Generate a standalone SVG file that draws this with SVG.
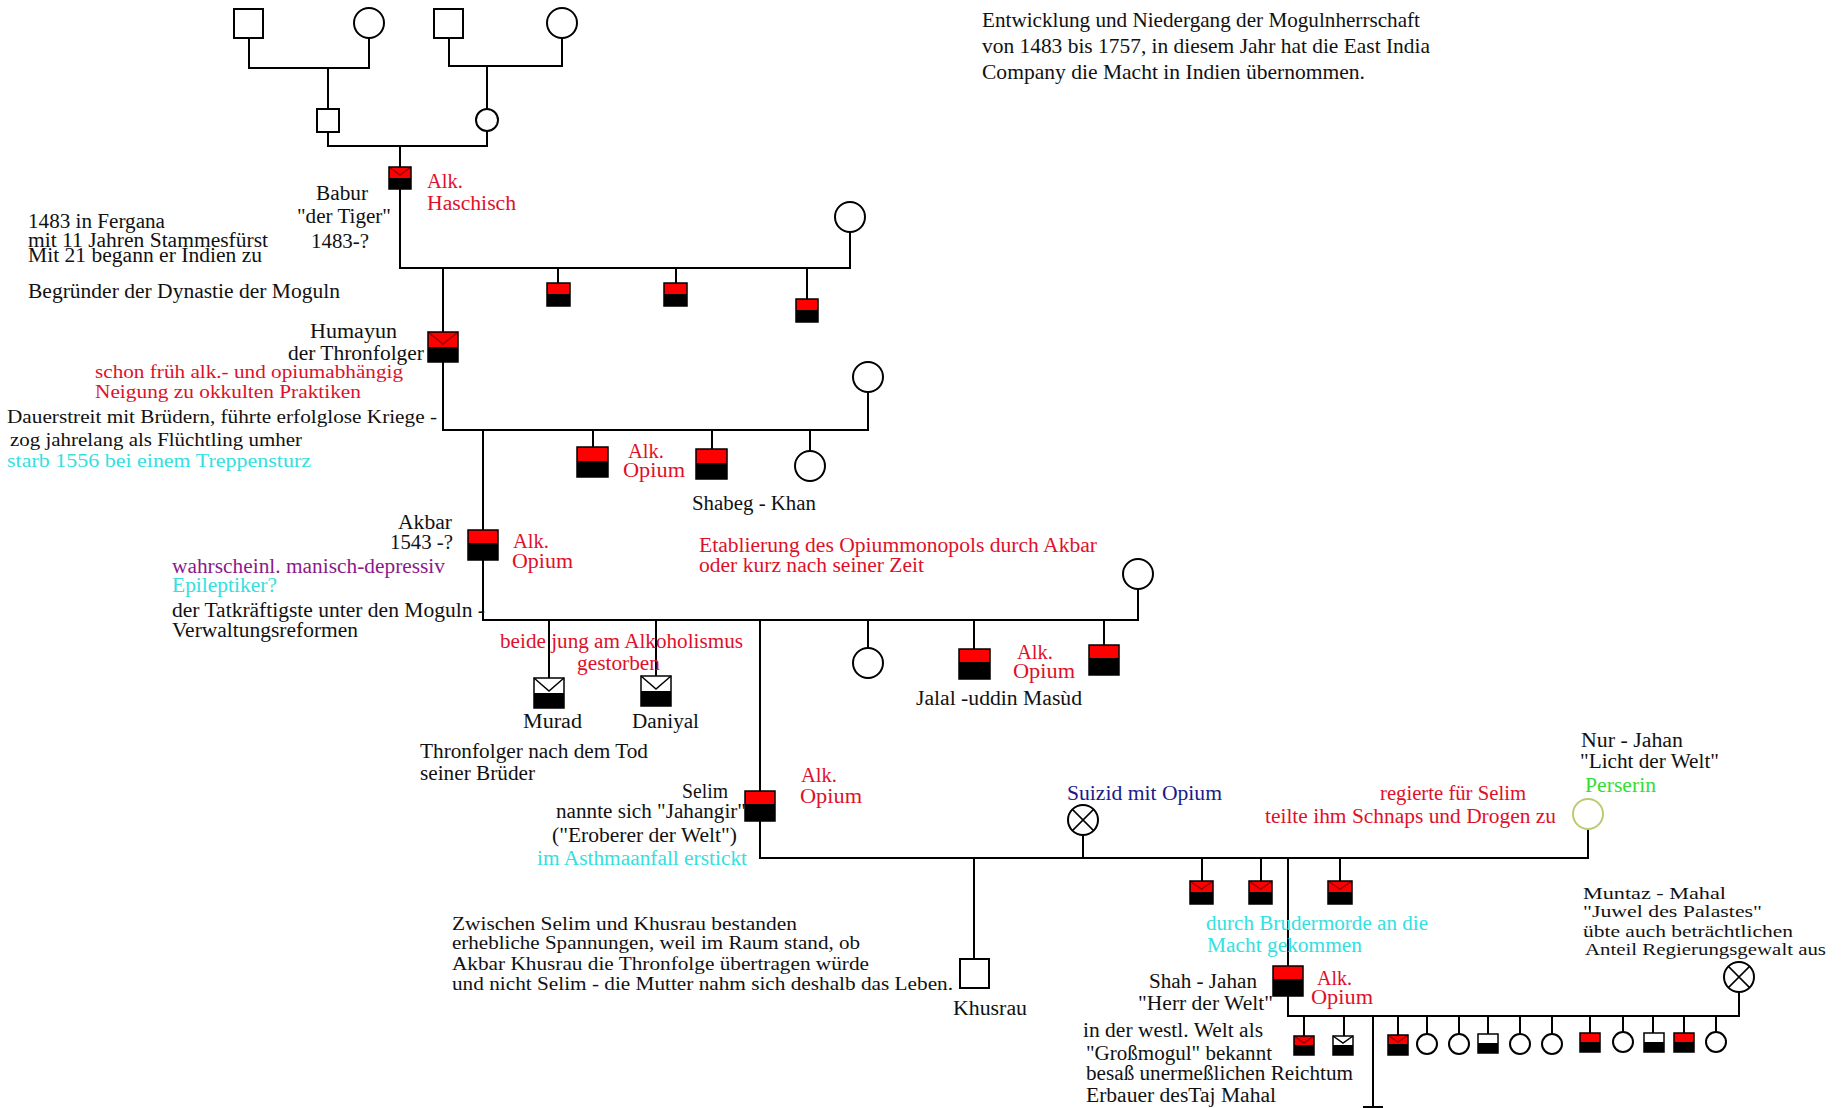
<svg xmlns="http://www.w3.org/2000/svg" width="1846" height="1108" viewBox="0 0 1846 1108">
<style>
.ln{stroke:#000;stroke-width:2;fill:none}
.bx{fill:none;stroke:#000;stroke-width:1.5}
.wh{fill:#fff;stroke:#000;stroke-width:2}
.ci{fill:#fff;stroke:#000;stroke-width:2}
.rd{fill:#ff0000}
.bk{fill:#000}
.v{stroke:#990000;stroke-width:1.5;fill:none}
.vb{stroke:#000;stroke-width:1.5;fill:none}
text{font-family:"Liberation Serif","Times New Roman",serif;font-size:20px;fill:#111}
.r{fill:#e0102a}
.c{fill:#33e0e0}
.p{fill:#8a1a8a}
.g{fill:#33dd33}
.n{fill:#1a1a88}
.s{font-size:19px}
.t{font-size:21px}
.z{font-size:18px}
.m{font-size:17px}
</style>
<rect width="1846" height="1108" fill="#fff"/>

<g id="connectors">
<path class="ln" d="M249 38V68H369V38M328 68V109M328 132V146H487V131M449 38V66H562V38M487 66V109"/>
<path class="ln" d="M400 146V167M400 189V268H850V232M558 268V283M676 268V283M807 268V299"/>
<path class="ln" d="M443 268V332M443 362V430H868V392M593 430V447M712 430V449M810 430V451"/>
<path class="ln" d="M483 430V530M483 560V620H1138V589M549 620V678M656 620V676M760 620V791M868 620V648M974 620V649M1104 620V645"/>
<path class="ln" d="M760 821V858H1588V829M974 858V959M1083 858V835M1202 858V881M1261 858V881M1340 858V881M1288 858V966"/>
<path class="ln" d="M1288 996V1016H1739V992M1304 1016V1036M1344 1016V1036M1373 1016V1108M1363 1107H1383M1398 1016V1035M1427 1016V1034M1459 1016V1034M1488 1016V1034M1520 1016V1034M1552 1016V1034M1590 1016V1033M1623 1016V1032M1653 1016V1033M1684 1016V1033M1716 1016V1032"/>
</g>

<g id="gen1">
<rect class="wh" x="234" y="9" width="29" height="29"/>
<circle class="ci" cx="369" cy="23" r="15"/>
<rect class="wh" x="434" y="9" width="29" height="29"/>
<circle class="ci" cx="562" cy="23" r="15"/>
</g>
<g id="gen2">
<rect class="wh" x="317" y="109" width="22" height="23"/>
<circle class="ci" cx="487" cy="120" r="11"/>
</g>

<g id="babur">
<rect class="bk" x="389" y="167" width="22" height="22"/>
<rect class="rd" x="389" y="167" width="22" height="11"/>
<path class="v" d="M389 167L400 175L411 167"/>
<rect class="bx" x="389" y="167" width="22" height="22"/>
<text x="316" y="200" textLength="52" lengthAdjust="spacingAndGlyphs">Babur</text>
<text x="297" y="223" textLength="94" lengthAdjust="spacingAndGlyphs">"der Tiger"</text>
<text x="311" y="248" textLength="58" lengthAdjust="spacingAndGlyphs">1483-?</text>
<text class="r" x="427" y="188" textLength="36" lengthAdjust="spacingAndGlyphs">Alk.</text>
<text class="r" x="427" y="210" textLength="89" lengthAdjust="spacingAndGlyphs">Haschisch</text>
<text x="28" y="228" textLength="137" lengthAdjust="spacingAndGlyphs">1483 in Fergana</text>
<text x="28" y="247" textLength="240" lengthAdjust="spacingAndGlyphs">mit 11 Jahren Stammesfürst</text>
<text x="28" y="262" textLength="234" lengthAdjust="spacingAndGlyphs">Mit 21 begann er Indien zu</text>
<text x="28" y="298" textLength="312" lengthAdjust="spacingAndGlyphs">Begründer der Dynastie der Moguln</text>
</g>
<g id="babur-wife"><circle class="ci" cx="850" cy="217" r="15"/></g>
<g id="babur-child1">
<rect class="bk" x="547" y="283" width="23" height="23"/><rect class="rd" x="547" y="283" width="23" height="11"/><rect class="bx" x="547" y="283" width="23" height="23"/>
</g>
<g id="babur-child2">
<rect class="bk" x="664" y="283" width="23" height="23"/><rect class="rd" x="664" y="283" width="23" height="11"/><rect class="bx" x="664" y="283" width="23" height="23"/>
</g>
<g id="babur-child3">
<rect class="bk" x="796" y="299" width="22" height="23"/><rect class="rd" x="796" y="299" width="22" height="11"/><rect class="bx" x="796" y="299" width="22" height="23"/>
</g>

<g id="humayun">
<rect class="bk" x="428" y="332" width="30" height="30"/>
<rect class="rd" x="428" y="332" width="30" height="15"/>
<path class="v" d="M428 332L443 344L458 332"/>
<rect class="bx" x="428" y="332" width="30" height="30"/>
<text x="310" y="338" textLength="87" lengthAdjust="spacingAndGlyphs">Humayun</text>
<text x="288" y="360" textLength="136" lengthAdjust="spacingAndGlyphs">der Thronfolger</text>
<text class="r s" x="95" y="378" textLength="308" lengthAdjust="spacingAndGlyphs">schon früh alk.- und opiumabhängig</text>
<text class="r s" x="95" y="398" textLength="266" lengthAdjust="spacingAndGlyphs">Neigung zu okkulten Praktiken</text>
<text class="s" x="7" y="423" textLength="430" lengthAdjust="spacingAndGlyphs">Dauerstreit mit Brüdern, führte erfolglose Kriege -</text>
<text class="s" x="10" y="446" textLength="292" lengthAdjust="spacingAndGlyphs">zog jahrelang als Flüchtling umher</text>
<text class="c s" x="7" y="467" textLength="304" lengthAdjust="spacingAndGlyphs">starb 1556 bei einem Treppensturz</text>
</g>
<g id="humayun-wife"><circle class="ci" cx="868" cy="377" r="15"/></g>
<g id="humayun-child1">
<rect class="bk" x="577" y="447" width="31" height="30"/><rect class="rd" x="577" y="447" width="31" height="14"/><rect class="bx" x="577" y="447" width="31" height="30"/>
<text class="r" x="628" y="458" textLength="36" lengthAdjust="spacingAndGlyphs">Alk.</text>
<text class="r" x="623" y="477" textLength="62" lengthAdjust="spacingAndGlyphs">Opium</text>
</g>
<g id="shabeg-khan">
<rect class="bk" x="696" y="449" width="31" height="30"/><rect class="rd" x="696" y="449" width="31" height="14"/><rect class="bx" x="696" y="449" width="31" height="30"/>
<text x="692" y="510" textLength="124" lengthAdjust="spacingAndGlyphs">Shabeg - Khan</text>
</g>
<g id="humayun-daughter"><circle class="ci" cx="810" cy="466" r="15"/></g>

<g id="akbar">
<rect class="bk" x="468" y="530" width="30" height="30"/>
<rect class="rd" x="468" y="530" width="30" height="13"/>
<rect class="bx" x="468" y="530" width="30" height="30"/>
<text x="398" y="529" textLength="54" lengthAdjust="spacingAndGlyphs">Akbar</text>
<text x="390" y="549" textLength="63" lengthAdjust="spacingAndGlyphs">1543 -?</text>
<text class="r" x="513" y="548" textLength="36" lengthAdjust="spacingAndGlyphs">Alk.</text>
<text class="r" x="512" y="568" textLength="61" lengthAdjust="spacingAndGlyphs">Opium</text>
<text class="p" x="172" y="573" textLength="273" lengthAdjust="spacingAndGlyphs">wahrscheinl. manisch-depressiv</text>
<text class="c" x="172" y="592" textLength="105" lengthAdjust="spacingAndGlyphs">Epileptiker?</text>
<text x="172" y="617" textLength="313" lengthAdjust="spacingAndGlyphs">der Tatkräftigste unter den Moguln -</text>
<text x="172" y="637" textLength="186" lengthAdjust="spacingAndGlyphs">Verwaltungsreformen</text>
</g>
<g id="akbar-wife"><circle class="ci" cx="1138" cy="574" r="15"/></g>
<text class="r" x="699" y="552" textLength="398" lengthAdjust="spacingAndGlyphs">Etablierung des Opiummonopols durch Akbar</text>
<text class="r" x="699" y="572" textLength="225" lengthAdjust="spacingAndGlyphs">oder kurz nach seiner Zeit</text>
<text class="r" x="500" y="648" textLength="243" lengthAdjust="spacingAndGlyphs">beide jung am Alkoholismus</text>
<text class="r" x="577" y="670" textLength="83" lengthAdjust="spacingAndGlyphs">gestorben</text>

<g id="murad">
<rect class="bk" x="534" y="678" width="30" height="30"/>
<rect fill="#fff" x="534" y="678" width="30" height="15"/>
<path class="vb" d="M534 678L549 691L564 678"/>
<rect class="bx" x="534" y="678" width="30" height="30"/>
<text x="523" y="728" textLength="59" lengthAdjust="spacingAndGlyphs">Murad</text>
</g>
<g id="daniyal">
<rect class="bk" x="641" y="676" width="30" height="30"/>
<rect fill="#fff" x="641" y="676" width="30" height="15"/>
<path class="vb" d="M641 676L656 689L671 676"/>
<rect class="bx" x="641" y="676" width="30" height="30"/>
<text x="632" y="728" textLength="67" lengthAdjust="spacingAndGlyphs">Daniyal</text>
</g>
<g id="akbar-daughter"><circle class="ci" cx="868" cy="663" r="15"/></g>
<g id="jalal">
<rect class="bk" x="959" y="649" width="31" height="30"/><rect class="rd" x="959" y="649" width="31" height="13"/><rect class="bx" x="959" y="649" width="31" height="30"/>
<text class="r" x="1017" y="659" textLength="36" lengthAdjust="spacingAndGlyphs">Alk.</text>
<text class="r" x="1013" y="678" textLength="62" lengthAdjust="spacingAndGlyphs">Opium</text>
<text x="916" y="705" textLength="166" lengthAdjust="spacingAndGlyphs">Jalal -uddin Masùd</text>
</g>
<g id="akbar-son">
<rect class="bk" x="1089" y="645" width="30" height="30"/><rect class="rd" x="1089" y="645" width="30" height="13"/><rect class="bx" x="1089" y="645" width="30" height="30"/>
</g>

<g id="selim">
<rect class="bk" x="745" y="791" width="30" height="30"/>
<rect class="rd" x="745" y="791" width="30" height="13"/>
<rect class="bx" x="745" y="791" width="30" height="30"/>
<text x="420" y="758" textLength="228" lengthAdjust="spacingAndGlyphs">Thronfolger nach dem Tod</text>
<text x="420" y="780" textLength="115" lengthAdjust="spacingAndGlyphs">seiner Brüder</text>
<text x="682" y="798" textLength="46" lengthAdjust="spacingAndGlyphs">Selim</text>
<text x="556" y="818" textLength="190" lengthAdjust="spacingAndGlyphs">nannte sich "Jahangir"</text>
<text x="552" y="842" textLength="185" lengthAdjust="spacingAndGlyphs">("Eroberer der Welt")</text>
<text class="c" x="537" y="865" textLength="210" lengthAdjust="spacingAndGlyphs">im Asthmaanfall erstickt</text>
<text class="r" x="801" y="782" textLength="36" lengthAdjust="spacingAndGlyphs">Alk.</text>
<text class="r" x="800" y="803" textLength="62" lengthAdjust="spacingAndGlyphs">Opium</text>
</g>
<text class="z" x="452" y="930" textLength="345" lengthAdjust="spacingAndGlyphs">Zwischen Selim und Khusrau bestanden</text>
<text class="z" x="452" y="949" textLength="408" lengthAdjust="spacingAndGlyphs">erhebliche Spannungen, weil im Raum stand, ob</text>
<text class="z" x="452" y="970" textLength="417" lengthAdjust="spacingAndGlyphs">Akbar Khusrau die Thronfolge übertragen würde</text>
<text class="z" x="452" y="990" textLength="501" lengthAdjust="spacingAndGlyphs">und nicht Selim - die Mutter nahm sich deshalb das Leben.</text>

<g id="selim-wife1">
<circle class="ci" cx="1083" cy="820" r="15"/>
<path class="vb" d="M1072.4 809.4L1093.6 830.6M1093.6 809.4L1072.4 830.6"/>
<text class="n" x="1067" y="800" textLength="155" lengthAdjust="spacingAndGlyphs">Suizid mit Opium</text>
</g>
<g id="nur-jahan">
<circle cx="1588" cy="814" r="15" fill="#fff" stroke="#b8cc70" stroke-width="2"/>
<text x="1581" y="747" textLength="102" lengthAdjust="spacingAndGlyphs">Nur - Jahan</text>
<text x="1580" y="768" textLength="139" lengthAdjust="spacingAndGlyphs">"Licht der Welt"</text>
<text class="g" x="1585" y="792" textLength="71" lengthAdjust="spacingAndGlyphs">Perserin</text>
<text class="r" x="1380" y="800" textLength="146" lengthAdjust="spacingAndGlyphs">regierte für Selim</text>
<text class="r" x="1265" y="823" textLength="291" lengthAdjust="spacingAndGlyphs">teilte ihm Schnaps und Drogen zu</text>
</g>
<g id="khusrau">
<rect class="wh" x="960" y="959" width="29" height="29"/>
<text x="953" y="1015" textLength="74" lengthAdjust="spacingAndGlyphs">Khusrau</text>
</g>
<g id="selim-child1">
<rect class="bk" x="1190" y="881" width="23" height="23"/><rect class="rd" x="1190" y="881" width="23" height="11"/><path class="v" d="M1190 881L1201.5 889L1213 881"/><rect class="bx" x="1190" y="881" width="23" height="23"/>
</g>
<g id="selim-child2">
<rect class="bk" x="1249" y="881" width="23" height="23"/><rect class="rd" x="1249" y="881" width="23" height="11"/><path class="v" d="M1249 881L1260.5 889L1272 881"/><rect class="bx" x="1249" y="881" width="23" height="23"/>
</g>
<g id="selim-child3">
<rect class="bk" x="1328" y="881" width="24" height="23"/><rect class="rd" x="1328" y="881" width="24" height="11"/><path class="v" d="M1328 881L1340 889L1352 881"/><rect class="bx" x="1328" y="881" width="24" height="23"/>
</g>
<text class="c" x="1206" y="930" textLength="222" lengthAdjust="spacingAndGlyphs">durch Brudermorde an die</text>
<text class="c" x="1207" y="952" textLength="155" lengthAdjust="spacingAndGlyphs">Macht gekommen</text>

<g id="shah-jahan">
<rect class="bk" x="1273" y="966" width="30" height="30"/>
<rect class="rd" x="1273" y="966" width="30" height="13"/>
<rect class="bx" x="1273" y="966" width="30" height="30"/>
<text class="r" x="1317" y="985" textLength="35" lengthAdjust="spacingAndGlyphs">Alk.</text>
<text class="r" x="1311" y="1004" textLength="62" lengthAdjust="spacingAndGlyphs">Opium</text>
<text x="1149" y="988" textLength="108" lengthAdjust="spacingAndGlyphs">Shah - Jahan</text>
<text x="1138" y="1010" textLength="135" lengthAdjust="spacingAndGlyphs">"Herr der Welt"</text>
<text x="1083" y="1037" textLength="180" lengthAdjust="spacingAndGlyphs">in der westl. Welt als</text>
<text x="1086" y="1060" textLength="186" lengthAdjust="spacingAndGlyphs">"Großmogul" bekannt</text>
<text x="1086" y="1080" textLength="267" lengthAdjust="spacingAndGlyphs">besaß unermeßlichen Reichtum</text>
<text x="1086" y="1102" textLength="190" lengthAdjust="spacingAndGlyphs">Erbauer desTaj Mahal</text>
</g>
<g id="muntaz-mahal">
<circle class="ci" cx="1739" cy="977" r="15"/>
<path class="vb" d="M1728.4 966.4L1749.6 987.6M1749.6 966.4L1728.4 987.6"/>
<text class="m" x="1583" y="899" textLength="143" lengthAdjust="spacingAndGlyphs">Muntaz - Mahal</text>
<text class="m" x="1583" y="917" textLength="179" lengthAdjust="spacingAndGlyphs">"Juwel des Palastes"</text>
<text class="m" x="1583" y="937" textLength="210" lengthAdjust="spacingAndGlyphs">übte auch beträchtlichen</text>
<text class="m" x="1585" y="955" textLength="241" lengthAdjust="spacingAndGlyphs">Anteil Regierungsgewalt aus</text>
</g>

<g id="sj-child1"><rect class="bk" x="1294" y="1036" width="20" height="19"/><rect class="rd" x="1294" y="1036" width="20" height="9"/><path class="v" d="M1294 1036L1304 1043L1314 1036"/><rect class="bx" x="1294" y="1036" width="20" height="19"/></g>
<g id="sj-child2"><rect class="bk" x="1333" y="1036" width="20" height="19"/><rect fill="#fff" x="1333" y="1036" width="20" height="9"/><path class="vb" d="M1333 1036L1343 1043L1353 1036"/><rect class="bx" x="1333" y="1036" width="20" height="19"/></g>
<g id="sj-child3"><rect class="bk" x="1388" y="1035" width="20" height="20"/><rect class="rd" x="1388" y="1035" width="20" height="9"/><path class="v" d="M1388 1035L1398 1042L1408 1035"/><rect class="bx" x="1388" y="1035" width="20" height="20"/></g>
<g id="sj-child4"><circle class="ci" cx="1427" cy="1044" r="10"/></g>
<g id="sj-child5"><circle class="ci" cx="1459" cy="1044" r="10"/></g>
<g id="sj-child6"><rect class="bk" x="1478" y="1034" width="20" height="19"/><rect fill="#fff" x="1478" y="1034" width="20" height="9"/><rect class="bx" x="1478" y="1034" width="20" height="19"/></g>
<g id="sj-child7"><circle class="ci" cx="1520" cy="1044" r="10"/></g>
<g id="sj-child8"><circle class="ci" cx="1552" cy="1044" r="10"/></g>
<g id="sj-child9"><rect class="bk" x="1580" y="1033" width="20" height="19"/><rect class="rd" x="1580" y="1033" width="20" height="9"/><rect class="bx" x="1580" y="1033" width="20" height="19"/></g>
<g id="sj-child10"><circle class="ci" cx="1623" cy="1042" r="10"/></g>
<g id="sj-child11"><rect class="bk" x="1644" y="1033" width="20" height="19"/><rect fill="#fff" x="1644" y="1033" width="20" height="9"/><rect class="bx" x="1644" y="1033" width="20" height="19"/></g>
<g id="sj-child12"><rect class="bk" x="1674" y="1033" width="20" height="19"/><rect class="rd" x="1674" y="1033" width="20" height="9"/><rect class="bx" x="1674" y="1033" width="20" height="19"/></g>
<g id="sj-child13"><circle class="ci" cx="1716" cy="1042" r="10"/></g>

<g id="title">
<text class="t" x="982" y="27" textLength="438" lengthAdjust="spacingAndGlyphs">Entwicklung und Niedergang der Mogulnherrschaft</text>
<text class="t" x="982" y="53" textLength="448" lengthAdjust="spacingAndGlyphs">von 1483 bis 1757, in diesem Jahr hat die East India</text>
<text class="t" x="982" y="79" textLength="383" lengthAdjust="spacingAndGlyphs">Company die Macht in Indien übernommen.</text>
</g>
</svg>
